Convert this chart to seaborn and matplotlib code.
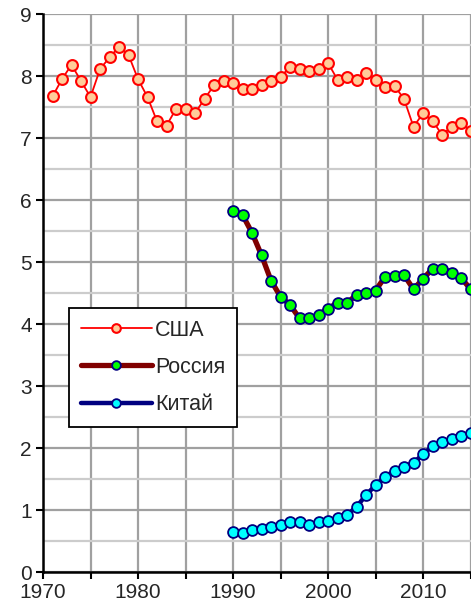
import matplotlib
matplotlib.use("Agg")
import matplotlib.pyplot as plt
from matplotlib.ticker import MultipleLocator
import pandas as pd
import seaborn as sns

usa_years = list(range(1971, 2016))
usa_values = [7.67, 7.95, 8.18, 7.92, 7.66, 8.11, 8.30, 8.47, 8.34, 7.95,
              7.66, 7.27, 7.20, 7.47, 7.47, 7.40, 7.63, 7.85, 7.92, 7.88,
              7.79, 7.79, 7.85, 7.92, 7.98, 8.15, 8.11, 8.08, 8.11, 8.21,
              7.94, 7.98, 7.94, 8.05, 7.94, 7.82, 7.84, 7.63, 7.18, 7.40,
              7.28, 7.05, 7.18, 7.25, 7.12]

rus_years = list(range(1990, 2016))
rus_values = [5.82, 5.76, 5.47, 5.11, 4.70, 4.44, 4.31, 4.09, 4.09, 4.15,
              4.25, 4.34, 4.34, 4.47, 4.50, 4.54, 4.76, 4.78, 4.79, 4.56,
              4.73, 4.89, 4.89, 4.83, 4.75, 4.56]

chn_years = list(range(1990, 2016))
chn_values = [0.64, 0.63, 0.67, 0.70, 0.73, 0.76, 0.80, 0.80, 0.76, 0.80,
              0.83, 0.87, 0.92, 1.05, 1.24, 1.40, 1.54, 1.63, 1.70, 1.76,
              1.90, 2.03, 2.09, 2.15, 2.20, 2.24]

labels = ["США", "Россия", "Китай"]

sns.set_style("white")
plt.rcParams['font.family'] = ['Liberation Sans', 'DejaVu Sans']

fig = plt.figure(figsize=(4.71, 6.07), dpi=100)
ax = fig.add_axes([43 / 471, 35 / 607, 1 - 43 / 471, 558 / 607])

usa = pd.DataFrame({'year': usa_years, 'value': usa_values})
rus = pd.DataFrame({'year': rus_years, 'value': rus_values})
chn = pd.DataFrame({'year': chn_years, 'value': chn_values})

sns.lineplot(data=usa, x='year', y='value', ax=ax, color='#ff0000', linewidth=1.3,
             marker='o', markersize=7.8, markerfacecolor='#ffcc99',
             markeredgecolor='#ff0000', markeredgewidth=1.5, label=labels[0], zorder=5)
sns.lineplot(data=rus, x='year', y='value', ax=ax, color='#800000', linewidth=3.8,
             marker='o', markersize=7.8, markerfacecolor='#00ff00',
             markeredgecolor='#000080', markeredgewidth=1.3, label=labels[1], zorder=5)
sns.lineplot(data=chn, x='year', y='value', ax=ax, color='#000080', linewidth=3.2,
             marker='o', markersize=7.8, markerfacecolor='#00ffff',
             markeredgecolor='#000080', markeredgewidth=1.3, label=labels[2], zorder=5)

ax.set_xlim(1970, 2015.05)
ax.set_ylim(0, 9)
ax.xaxis.set_major_locator(MultipleLocator(10))
ax.xaxis.set_minor_locator(MultipleLocator(5))
ax.yaxis.set_major_locator(MultipleLocator(1))
ax.yaxis.set_minor_locator(MultipleLocator(0.5))

ax.grid(True, axis='x', which='both', color='#a0a0a0', linewidth=1.6)
ax.grid(True, axis='y', which='major', color='#a0a0a0', linewidth=1.6)
ax.grid(True, axis='y', which='minor', color='#cccccc', linewidth=1.6)
ax.set_axisbelow(True)

for side in ['top', 'right']:
    ax.spines[side].set_visible(False)
for side in ['left', 'bottom']:
    ax.spines[side].set_color('black')
    ax.spines[side].set_linewidth(1.8)

ax.tick_params(axis='both', which='major', direction='out', length=5, width=1.5,
               color='black', labelsize=15, pad=3, left=True, bottom=True)
ax.tick_params(axis='x', which='minor', direction='out', length=5, width=1.5,
               color='black', bottom=True)
ax.tick_params(axis='y', which='minor', length=0)
ax.set_xlabel('')
ax.set_ylabel('')

leg = ax.legend(loc='lower left', bbox_to_anchor=(26 / 428, 145 / 558),
                borderaxespad=0, fontsize=15.5, frameon=True, fancybox=False,
                handlelength=3.3, handletextpad=0.15, labelspacing=0.75,
                borderpad=0.55, markerscale=0.8)
leg.get_frame().set_edgecolor('black')
leg.get_frame().set_linewidth(1.3)
leg.get_frame().set_alpha(1)

fig.savefig('out.png', dpi=100)
